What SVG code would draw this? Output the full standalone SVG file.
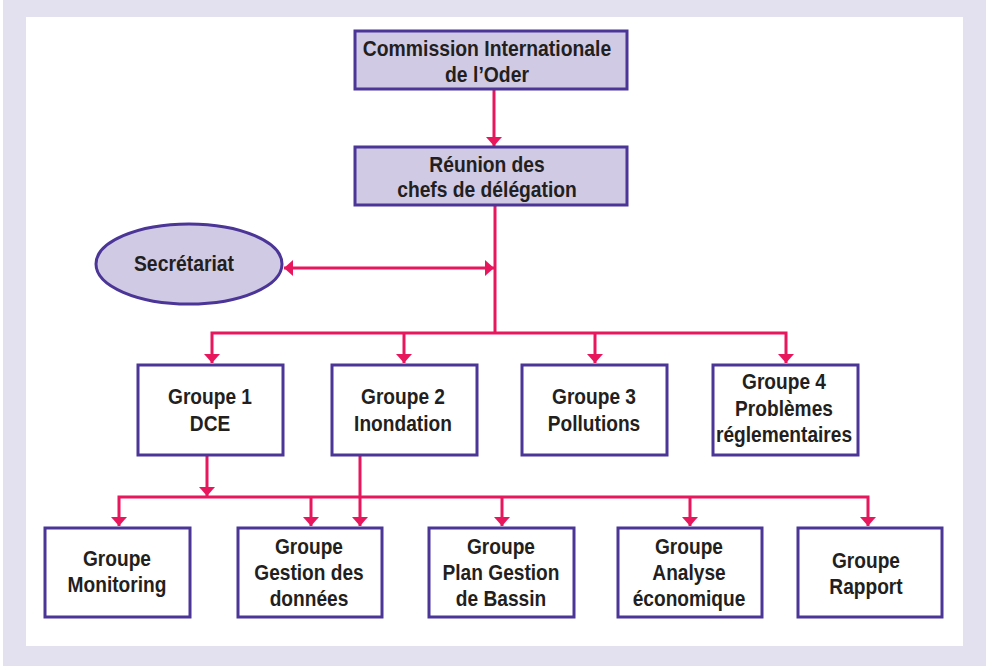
<svg xmlns="http://www.w3.org/2000/svg" width="986" height="666" viewBox="0 0 986 666">
<defs>
<marker id="ah" markerUnits="userSpaceOnUse" markerWidth="12" markerHeight="18" refX="10" refY="9" orient="auto-start-reverse" viewBox="0 0 12 18">
<path d="M1,1 L10,9 L1,17 Z" fill="#e8175d"/>
</marker>
</defs>
<style>
.box{fill:#ffffff;stroke:#4b3597;stroke-width:3}
.hl{fill:#d0cae4;stroke:#4b3597;stroke-width:3}
.t{font-family:"Liberation Sans Narrow","Liberation Sans",Arial,sans-serif;font-weight:bold;font-size:22px;fill:#231f20;text-anchor:middle}
.c{fill:none;stroke:#e8175d;stroke-width:3}
</style>
<rect x="3" y="0" width="983" height="666" fill="#e3e0ef"/>
<rect x="26" y="17" width="937" height="629" fill="#ffffff"/>
<g id="connectors">
<line class="c" x1="494" y1="90" x2="494" y2="146" marker-end="url(#ah)"/>
<line class="c" x1="495" y1="205" x2="495" y2="334"/>
<line class="c" x1="284" y1="268" x2="494" y2="268" marker-start="url(#ah)" marker-end="url(#ah)"/>
<polyline class="c" points="212,363 212,333 786,333 786,363" marker-start="url(#ah)" marker-end="url(#ah)"/>
<line class="c" x1="404" y1="333" x2="404" y2="363" marker-end="url(#ah)"/>
<line class="c" x1="595" y1="333" x2="595" y2="363" marker-end="url(#ah)"/>
<line class="c" x1="207" y1="456" x2="207" y2="496" marker-end="url(#ah)"/>
<polyline class="c" points="119,526 119,497 868,497 868,526" marker-start="url(#ah)" marker-end="url(#ah)"/>
<line class="c" x1="311" y1="497" x2="311" y2="526" marker-end="url(#ah)"/>
<line class="c" x1="360" y1="456" x2="360" y2="526" marker-end="url(#ah)"/>
<line class="c" x1="502" y1="497" x2="502" y2="526" marker-end="url(#ah)"/>
<line class="c" x1="690" y1="497" x2="690" y2="526" marker-end="url(#ah)"/>
</g>
<g id="commission">
<rect class="hl" x="355" y="31" width="272" height="58"/>
<text class="t" transform="translate(487,56) scale(0.88,1)">Commission Internationale</text>
<text class="t" transform="translate(487,82) scale(0.88,1)">de l’Oder</text>
</g>
<g id="reunion">
<rect class="hl" x="355" y="147" width="272" height="58"/>
<text class="t" transform="translate(487,172) scale(0.875,1)">Réunion des</text>
<text class="t" transform="translate(487,197) scale(0.875,1)">chefs de délégation</text>
</g>
<g id="secretariat">
<ellipse class="hl" cx="189" cy="264" rx="93" ry="40"/>
<text class="t" transform="translate(184,271) scale(0.88,1)">Secrétariat</text>
</g>
<g id="groupe1">
<rect class="box" x="138" y="365" width="145" height="90"/>
<text class="t" transform="translate(210,404) scale(0.87,1)">Groupe 1</text>
<text class="t" transform="translate(210,431) scale(0.87,1)">DCE</text>
</g>
<g id="groupe2">
<rect class="box" x="332" y="365" width="145" height="90"/>
<text class="t" transform="translate(403,404) scale(0.87,1)">Groupe 2</text>
<text class="t" transform="translate(403,431) scale(0.87,1)">Inondation</text>
</g>
<g id="groupe3">
<rect class="box" x="522" y="365" width="145" height="90"/>
<text class="t" transform="translate(594,404) scale(0.87,1)">Groupe 3</text>
<text class="t" transform="translate(594,431) scale(0.87,1)">Pollutions</text>
</g>
<g id="groupe4">
<rect class="box" x="713" y="365" width="145" height="90"/>
<text class="t" transform="translate(784,389) scale(0.87,1)">Groupe 4</text>
<text class="t" transform="translate(784,416) scale(0.87,1)">Problèmes</text>
<text class="t" transform="translate(784,442) scale(0.87,1)">réglementaires</text>
</g>
<g id="monitoring">
<rect class="box" x="45" y="528" width="145" height="89"/>
<text class="t" transform="translate(117,566) scale(0.87,1)">Groupe</text>
<text class="t" transform="translate(117,592) scale(0.87,1)">Monitoring</text>
</g>
<g id="gestion">
<rect class="box" x="238" y="528" width="144" height="89"/>
<text class="t" transform="translate(309,554) scale(0.87,1)">Groupe</text>
<text class="t" transform="translate(309,580) scale(0.87,1)">Gestion des</text>
<text class="t" transform="translate(309,606) scale(0.87,1)">données</text>
</g>
<g id="plan">
<rect class="box" x="429" y="528" width="145" height="89"/>
<text class="t" transform="translate(501,554) scale(0.87,1)">Groupe</text>
<text class="t" transform="translate(501,580) scale(0.87,1)">Plan Gestion</text>
<text class="t" transform="translate(501,606) scale(0.87,1)">de Bassin</text>
</g>
<g id="analyse">
<rect class="box" x="618" y="528" width="144" height="89"/>
<text class="t" transform="translate(689,554) scale(0.87,1)">Groupe</text>
<text class="t" transform="translate(689,580) scale(0.87,1)">Analyse</text>
<text class="t" transform="translate(689,606) scale(0.87,1)">économique</text>
</g>
<g id="rapport">
<rect class="box" x="798" y="528" width="144" height="89"/>
<text class="t" transform="translate(866,568) scale(0.87,1)">Groupe</text>
<text class="t" transform="translate(866,594) scale(0.87,1)">Rapport</text>
</g>
</svg>
